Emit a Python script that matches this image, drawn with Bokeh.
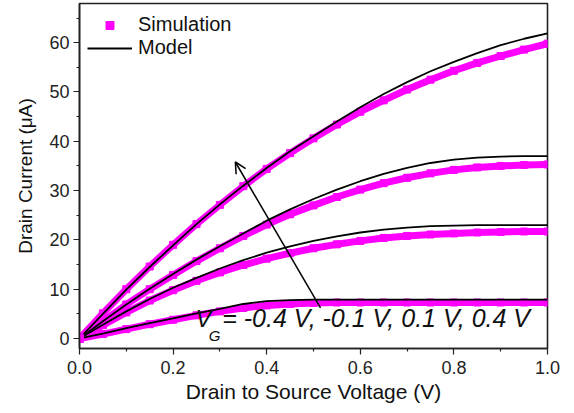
from bokeh.plotting import figure
from bokeh.models import (Label, Arrow, OpenHead, FixedTicker, Legend, LegendItem,
                          Range1d, ColumnDataSource, PrintfTickFormatter)
from bokeh.embed import file_html
from bokeh.resources import INLINE

# ---- data ----
vds = [0.0, 0.05, 0.1, 0.15, 0.2, 0.25, 0.3, 0.35, 0.4, 0.45, 0.5,
       0.55, 0.6, 0.65, 0.7, 0.75, 0.8, 0.85, 0.9, 0.95, 1.0]

# model (black lines), VG = 0.4, 0.1, -0.1, -0.4 V
model_p04 = [0, 5.0, 9.9, 14.5, 18.9, 23.2, 27.2, 31.0, 34.6, 38.0, 41.0,
             44.0, 46.9, 49.6, 52.0, 54.2, 56.1, 57.9, 59.5, 60.8, 61.9]
model_p01 = [0, 3.5, 6.9, 10.1, 13.1, 16.0, 18.7, 21.3, 23.9, 26.2, 28.3,
             30.2, 31.9, 33.4, 34.6, 35.6, 36.3, 36.7, 36.9, 37.0, 37.0]
model_m01 = [0, 2.8, 5.5, 8.0, 10.3, 12.3, 14.2, 15.9, 17.4, 18.7, 19.8,
             20.7, 21.5, 22.1, 22.5, 22.8, 22.9, 23.0, 23.0, 23.0, 23.0]
model_m04 = [0, 1.0, 2.1, 3.1, 4.1, 5.1, 6.0, 7.0, 7.6, 7.8, 7.9,
             7.9, 7.9, 7.9, 7.9, 7.9, 7.9, 7.9, 7.9, 7.9, 7.9]

# simulation (magenta squares)
sim_p04 = [0, 5.1, 10.0, 14.6, 19.0, 23.2, 27.1, 30.9, 34.4, 37.6, 40.6,
           43.4, 46.0, 48.3, 50.5, 52.5, 54.3, 55.9, 57.3, 58.6, 59.8]
sim_p01 = [0, 3.5, 6.9, 10.0, 12.9, 15.7, 18.3, 20.8, 23.1, 25.2, 27.0,
           28.7, 30.2, 31.5, 32.6, 33.5, 34.2, 34.7, 35.0, 35.2, 35.3]
sim_m01 = [0, 2.7, 5.3, 7.7, 9.8, 11.7, 13.4, 14.9, 16.2, 17.3, 18.3,
           19.1, 19.8, 20.4, 20.8, 21.1, 21.3, 21.5, 21.6, 21.7, 21.7]
sim_m04 = [0, 0.9, 1.9, 2.9, 3.8, 4.7, 5.5, 6.2, 6.7, 7.0, 7.2,
           7.3, 7.3, 7.3, 7.3, 7.3, 7.3, 7.3, 7.3, 7.3, 7.3]

x_ticks = [0.0, 0.2, 0.4, 0.6, 0.8, 1.0]
x_minor = [0.1, 0.3, 0.5, 0.7, 0.9]
y_ticks = [0, 10, 20, 30, 40, 50, 60]
y_minor = [5, 15, 25, 35, 45, 55, 65]

arrow_from = (0.515, 6.2)
arrow_to = (0.333, 35.8)

FONT = "Liberation Sans"
MAGENTA = "#FF00FF"

p = figure(width=566, height=408, output_backend="svg", toolbar_location=None,
           x_range=Range1d(0.0, 1.0), y_range=Range1d(-2.03, 67.95),
           min_border_left=79, min_border_right=19, min_border_top=3,
           min_border_bottom=60)
p.xgrid.visible = False
p.ygrid.visible = False
p.outline_line_color = "#222222"
p.outline_line_width = 1.6
p.background_fill_color = "white"

sims = [sim_p04, sim_p01, sim_m01, sim_m04]
models = [model_p04, model_p01, model_m01, model_m04]

for s in sims:
    src = ColumnDataSource(dict(x=vds, y=s))
    p.line("x", "y", source=src, line_color=MAGENTA, line_width=7)
    p.scatter("x", "y", source=src, marker="square", size=7,
              fill_color=MAGENTA, line_color=MAGENTA)

model_renderers = []
for m in models:
    model_renderers.append(p.line(vds, m, line_color="black", line_width=1.8))

# legend square: the first simulation point, drawn a little larger
leg_sq = p.scatter([vds[0]], [sim_p04[0]], marker="square", size=8,
                   fill_color=MAGENTA, line_color=MAGENTA)
legend = Legend(items=[LegendItem(label="Simulation", renderers=[leg_sq]),
                       LegendItem(label="Model", renderers=[model_renderers[0]])],
                location=(8, 289), padding=0, spacing=0, glyph_height=20,
                glyph_width=45, label_standoff=6, border_line_alpha=0,
                background_fill_alpha=0, label_text_font=FONT,
                label_text_font_size="20px", label_text_color="#111111",
                margin=0)
p.add_layout(legend)

# arrow
p.add_layout(Arrow(end=OpenHead(size=11, line_width=1.5, line_color="black"),
                   x_start=arrow_from[0], y_start=arrow_from[1],
                   x_end=arrow_to[0], y_end=arrow_to[1],
                   line_width=1.5, line_color="black"))

# VG annotation
p.add_layout(Label(x=0.248, y=1.35, text="V", text_font=FONT, text_font_size="24px",
                   text_font_style="italic", text_color="#111111"))
p.add_layout(Label(x=0.276, y=-1.1, text="G", text_font=FONT, text_font_size="15px",
                   text_font_style="italic", text_color="#111111"))
p.add_layout(Label(x=0.305, y=1.35, text="= -0.4 V, -0.1 V, 0.1 V, 0.4 V", text_font=FONT,
                   text_font_size="25px", text_font_style="italic", text_color="#111111"))

# axes
for ax in (p.xaxis[0], p.yaxis[0]):
    ax.axis_line_color = "#222222"
    ax.axis_line_width = 1.6
    ax.major_tick_line_color = "#222222"
    ax.minor_tick_line_color = "#222222"
    ax.major_tick_line_width = 1.2
    ax.minor_tick_line_width = 1.2
    ax.major_tick_in = 0
    ax.minor_tick_in = 0
    ax.major_tick_out = 6
    ax.minor_tick_out = 3
    ax.major_label_text_font = FONT
    ax.major_label_text_font_size = "18px"
    ax.major_label_text_color = "#222222"
    ax.axis_label_text_font = FONT
    ax.axis_label_text_font_style = "normal"
    ax.axis_label_text_color = "#111111"

p.xaxis.axis_label_text_font_size = "21px"
p.yaxis.axis_label_text_font_size = "19px"
p.xaxis.ticker = FixedTicker(ticks=x_ticks, minor_ticks=x_minor)
p.xaxis.formatter = PrintfTickFormatter(format="%.1f")
p.yaxis.ticker = FixedTicker(ticks=y_ticks, minor_ticks=y_minor)
p.xaxis.axis_label = "Drain to Source Voltage (V)"
p.yaxis.axis_label = "Drain Current (\u03bcA)"
p.xaxis.major_label_standoff = 6
p.xaxis.axis_label_standoff = 3
p.yaxis.major_label_standoff = 4
p.yaxis.axis_label_standoff = 10

open("out.html", "w").write(file_html(p, INLINE))
